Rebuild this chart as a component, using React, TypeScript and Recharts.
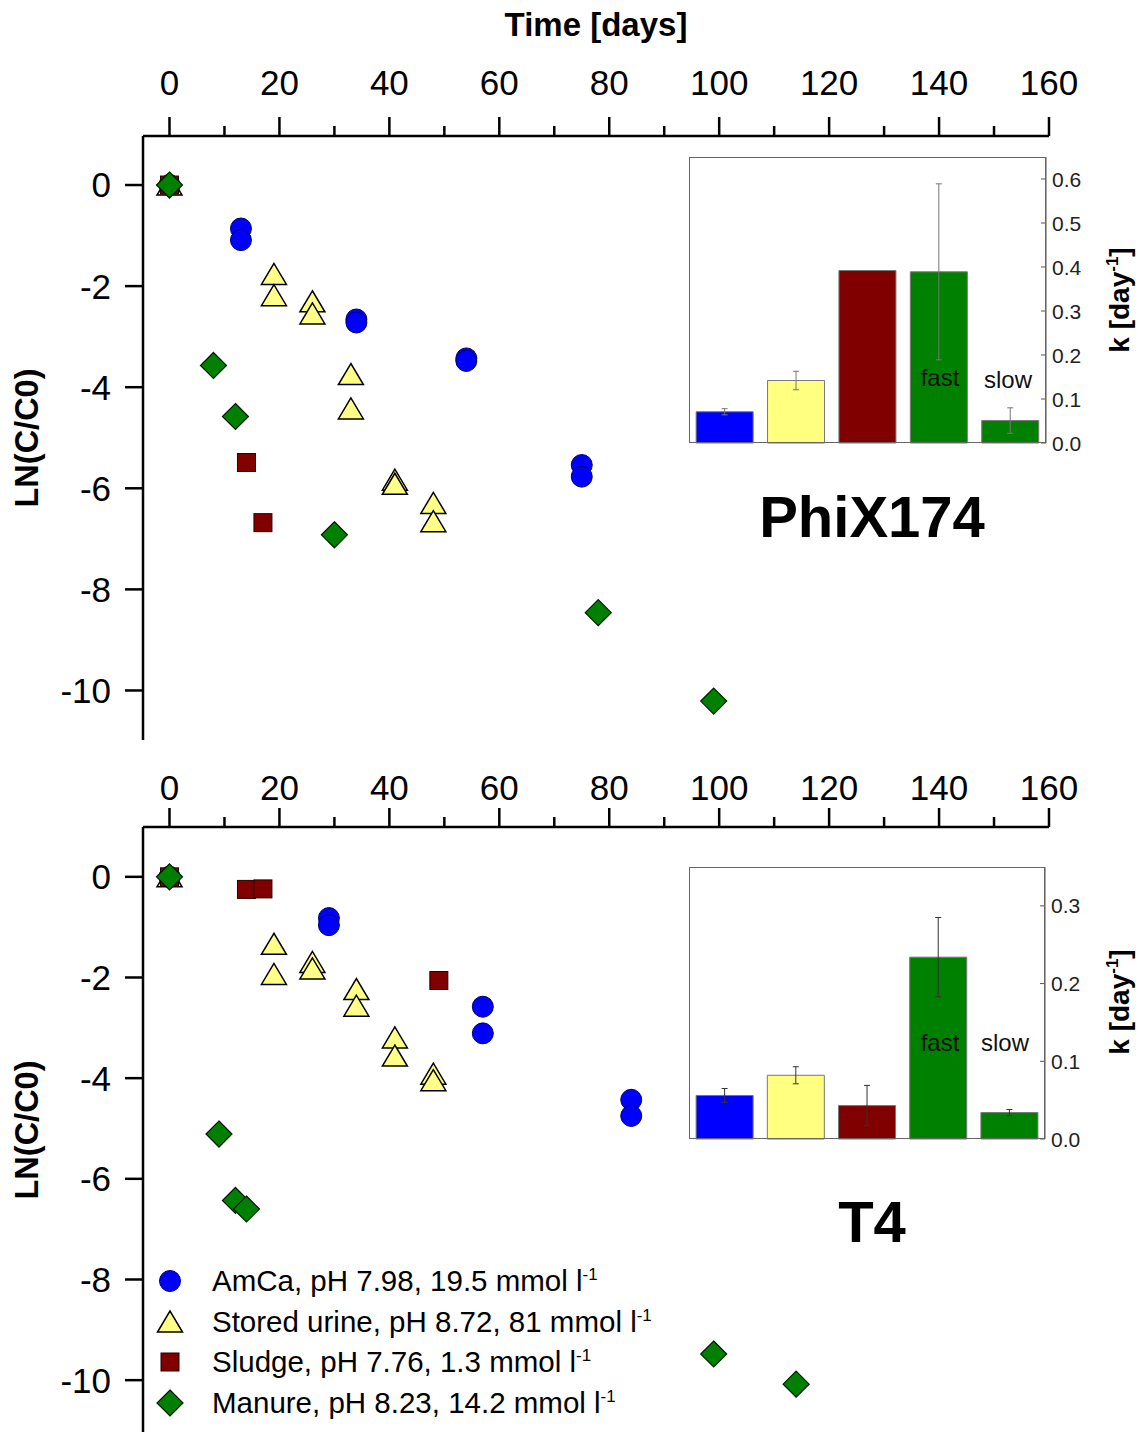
import React from 'react';
import { ScatterChart, Scatter, XAxis, YAxis, BarChart, Bar, Cell, ErrorBar, Legend } from 'recharts';

const FONT = '"Liberation Sans", Arial, Helvetica, sans-serif';

// axis ticks
const dayTicks = [0, 10, 20, 30, 40, 50, 60, 70, 80, 90, 100, 110, 120, 130, 140, 150, 160];
const lnTicks = [-10, -8, -6, -4, -2, 0];

// PhiX174 inactivation, LN(C/C0) vs days
const phiAmCa = [
  { day: 0, ln: 0 }, { day: 13, ln: -0.86 }, { day: 13, ln: -1.09 }, { day: 34, ln: -2.66 },
  { day: 34, ln: -2.72 }, { day: 54, ln: -3.43 }, { day: 54, ln: -3.48 }, { day: 75, ln: -5.54 },
  { day: 75, ln: -5.77 },
];
const phiUrine = [
  { day: 0, ln: 0 }, { day: 19, ln: -1.77 }, { day: 19, ln: -2.19 }, { day: 26, ln: -2.31 },
  { day: 26, ln: -2.55 }, { day: 33, ln: -3.75 }, { day: 33, ln: -4.43 }, { day: 41, ln: -5.84 },
  { day: 41, ln: -5.92 }, { day: 48, ln: -6.3 }, { day: 48, ln: -6.66 },
];
const phiSludge = [{ day: 0, ln: 0 }, { day: 14, ln: -5.49 }, { day: 17, ln: -6.68 }];
const phiManure = [
  { day: 0, ln: 0 }, { day: 8, ln: -3.57 }, { day: 12, ln: -4.58 }, { day: 30, ln: -6.92 },
  { day: 78, ln: -8.46 }, { day: 99, ln: -10.21 },
];

// T4 inactivation
const t4AmCa = [
  { day: 0, ln: 0 }, { day: 29, ln: -0.82 }, { day: 29, ln: -0.96 }, { day: 57, ln: -2.58 },
  { day: 57, ln: -3.11 }, { day: 84, ln: -4.43 }, { day: 84, ln: -4.75 },
];
const t4Urine = [
  { day: 0, ln: 0 }, { day: 19, ln: -1.34 }, { day: 19, ln: -1.94 }, { day: 26, ln: -1.7 },
  { day: 26, ln: -1.83 }, { day: 34, ln: -2.24 }, { day: 34, ln: -2.57 }, { day: 41, ln: -3.2 },
  { day: 41, ln: -3.56 }, { day: 48, ln: -3.92 }, { day: 48, ln: -4.05 },
];
const t4Sludge = [{ day: 0, ln: 0 }, { day: 14, ln: -0.25 }, { day: 17, ln: -0.24 }, { day: 49, ln: -2.06 }];
const t4Manure = [
  { day: 0, ln: 0 }, { day: 9, ln: -5.11 }, { day: 12, ln: -6.43 }, { day: 14, ln: -6.6 },
  { day: 99, ln: -9.48 }, { day: 114, ln: -10.08 },
];

// inset: rate constants k [day-1]
const rateGroups = ['AmCa', 'Stored urine', 'Sludge', 'Manure fast', 'Manure slow'];
const rateColors = ['#0000FF', '#FFFF80', '#800000', '#008000', '#008000'];
const phiK = [0.071, 0.142, 0.392, 0.389, 0.051];
const phiKErr = [0.007, 0.021, 0, 0.2, 0.029];
const t4K = [0.056, 0.082, 0.043, 0.234, 0.034];
const t4KErr = [0.009, 0.011, 0.026, 0.051, 0.004];

const legendItems = [
  { kind: 'circle', text: 'AmCa, pH 7.98, 19.5 mmol l' },
  { kind: 'triangle', text: 'Stored urine, pH 8.72, 81 mmol l' },
  { kind: 'square', text: 'Sludge, pH 7.76, 1.3 mmol l' },
  { kind: 'diamond', text: 'Manure, pH 8.23, 14.2 mmol l' },
];

const Marker = ({ cx, cy, kind }: any) => {
  if (cx == null || cy == null) return null;
  switch (kind) {
    case 'circle':
      return <circle cx={cx} cy={cy} r={10.5} fill="#0000FF" stroke="#00006a" strokeWidth={1} />;
    case 'triangle':
      return (
        <polygon
          points={`${cx},${cy - 11} ${cx - 12.5},${cy + 10} ${cx + 12.5},${cy + 10}`}
          fill="#FFFF88" stroke="#000" strokeWidth={1.5}
        />
      );
    case 'square':
      return <rect x={cx - 9} y={cy - 9} width={18} height={18} fill="#800000" stroke="#2a0000" strokeWidth={1} />;
    default:
      return (
        <polygon
          points={`${cx},${cy - 13} ${cx + 13},${cy} ${cx},${cy + 13} ${cx - 13},${cy}`}
          fill="#008000" stroke="#001a00" strokeWidth={1.2}
        />
      );
  }
};

const shapeOf = (kind: string) => (p: any) => <Marker cx={p.cx} cy={p.cy} kind={kind} />;

// top axis tick: long tick + label every 20 days, short minor tick
const makeDayTick = (labelGap: number) => (props: any) => {
  const { x, y, payload } = props;
  const major = payload.value % 20 === 0;
  return (
    <g>
      <line x1={x} x2={x} y1={y} y2={y - (major ? 19 : 10)} stroke="#000" strokeWidth={2.5} />
      {major && (
        <text x={x} y={y - labelGap + 12.5} textAnchor="middle" fontSize={35} fontFamily={FONT} fill="#000">
          {payload.value}
        </text>
      )}
    </g>
  );
};

// inset right axis: inward tick, label to the right
const RateTick = (props: any) => {
  const { x, y, payload } = props;
  return (
    <g>
      <line x1={x - 5} x2={x} y1={y} y2={y} stroke="#555" strokeWidth={1} />
      <text x={x + 6} y={y + 7.5} textAnchor="start" fontSize={21} fontFamily={FONT} fill="#222">
        {Number(payload.value).toFixed(1)}
      </text>
    </g>
  );
};

const renderLegend = () => (
  <div style={{ fontFamily: FONT, fontSize: 29.5, color: '#000' }}>
    {legendItems.map((it) => (
      <div key={it.kind} style={{ display: 'flex', alignItems: 'center', height: 40.5 }}>
        <svg width={30} height={30} style={{ marginRight: 27 }}>
          <Marker cx={15} cy={15} kind={it.kind} />
        </svg>
        <span style={{ whiteSpace: 'nowrap' }}>
          {it.text}
          <sup style={{ fontSize: 17 }}>-1</sup>
        </span>
      </div>
    ))}
  </div>
);

const axisStroke = { stroke: '#000', strokeWidth: 2.5 };

const Panel = ({ series, top, height, xHeight, yDomain, labelGap, legend }: any) => (
  <div style={{ position: 'absolute', left: 0, top }}>
    <ScatterChart width={1138} height={height} margin={{ top: 0, right: 89, bottom: height === 745 ? 5 : 0, left: 0 }}>
      <XAxis
        type="number" dataKey="day" orientation="top" domain={[-4.82, 160]} ticks={dayTicks}
        height={xHeight} tickSize={0} tickMargin={0} tickLine={false} axisLine={axisStroke}
        tick={makeDayTick(labelGap)} allowDataOverflow interval={0}
      />
      <YAxis
        type="number" dataKey="ln" domain={yDomain} ticks={lnTicks} width={143} tickSize={18} tickMargin={14}
        tickLine={axisStroke} axisLine={axisStroke} allowDataOverflow interval={0}
        tick={{ fontSize: 35, fontFamily: FONT, fill: '#000' }}
      />
      <Scatter data={series[0]} shape={shapeOf('circle')} isAnimationActive={false} />
      <Scatter data={series[1]} shape={shapeOf('triangle')} isAnimationActive={false} />
      <Scatter data={series[2]} shape={shapeOf('square')} isAnimationActive={false} />
      <Scatter data={series[3]} shape={shapeOf('diamond')} isAnimationActive={false} />
      {legend && (
        <Legend
          layout="horizontal" verticalAlign="middle" align="center"
          wrapperStyle={{ left: 155, top: 516, width: 'auto', height: 'auto' }}
          content={renderLegend}
        />
      )}
    </ScatterChart>
  </div>
);

const Inset = ({ left, top, width, height, values, errors, domain, ticks, errColor }: any) => {
  const data = rateGroups.map((g, i) => ({ group: g, k: values[i], err: errors[i] }));
  return (
    <>
      <div style={{ position: 'absolute', left, top: top - 5, background: '#fff' }}>
        <BarChart width={width + 60} height={height + 20} data={data} margin={{ top: 5, right: 0, bottom: 15, left: 0 }} barCategoryGap="10%">
          <XAxis dataKey="group" hide />
          <YAxis
            orientation="right" domain={domain} ticks={ticks} width={60} tickSize={0} tickMargin={0}
            tickLine={false} axisLine={{ stroke: '#555', strokeWidth: 1 }} tick={RateTick} interval={0}
          />
          <Bar dataKey="k" stroke="#777" strokeWidth={1} isAnimationActive={false}>
            {data.map((d, i) => (
              <Cell key={d.group} fill={rateColors[i]} />
            ))}
            <ErrorBar dataKey="err" width={3} stroke={errColor} strokeWidth={1} />
          </Bar>
        </BarChart>
      </div>
      <div
        style={{
          position: 'absolute', left, top, width, height, border: '1px solid #666',
          boxSizing: 'border-box', pointerEvents: 'none',
        }}
      />
    </>
  );
};

const Txt = ({ x, y, size, bold, rotate, children, color }: any) => (
  <div
    style={{
      position: 'absolute', left: x, top: y, fontFamily: FONT, fontSize: size,
      fontWeight: bold ? 'bold' : 'normal', color: color || '#000', whiteSpace: 'nowrap', lineHeight: 1,
      transform: `translate(-50%, -50%)${rotate ? ' rotate(-90deg)' : ''}`,
    }}
  >
    {children}
  </div>
);

export default function App() {
  return (
    <div style={{ position: 'absolute', left: 0, top: 0, width: 1138, height: 1432, background: '#fff', overflow: 'hidden' }}>
      <Panel
        series={[phiAmCa, phiUrine, phiSludge, phiManure]} top={0} height={745} xHeight={136}
        yDomain={[-10.98, 0.97]} labelGap={53.5}
      />
      <Panel
        series={[t4AmCa, t4Urine, t4Sludge, t4Manure]} top={745} height={687} xHeight={82}
        yDomain={[-11.03, 0.99]} labelGap={39.5} legend
      />
      <Inset left={689} top={157} width={357} height={286} values={phiK} errors={phiKErr}
        domain={[0, 0.65]} ticks={[0, 0.1, 0.2, 0.3, 0.4, 0.5, 0.6]} errColor="#777" />
      <Inset left={689} top={867} width={356} height={272} values={t4K} errors={t4KErr}
        domain={[0, 0.35]} ticks={[0, 0.1, 0.2, 0.3]} errColor="#333" />

      <Txt x={596} y={24} size={33} bold>Time [days]</Txt>
      <Txt x={27} y={438} size={32.5} bold rotate>LN(C/C0)</Txt>
      <Txt x={27} y={1130} size={32.5} bold rotate>LN(C/C0)</Txt>
      <Txt x={1119} y={300} size={28} bold rotate>k [day<sup style={{ fontSize: 17 }}>-1</sup>]</Txt>
      <Txt x={1119} y={1002} size={28} bold rotate>k [day<sup style={{ fontSize: 17 }}>-1</sup>]</Txt>
      <Txt x={872} y={517} size={58} bold>PhiX174</Txt>
      <Txt x={872} y={1222} size={58} bold>T4</Txt>
      <Txt x={940} y={378} size={24} color="#111">fast</Txt>
      <Txt x={1008} y={380} size={24} color="#111">slow</Txt>
      <Txt x={940} y={1043} size={24} color="#111">fast</Txt>
      <Txt x={1005} y={1043} size={24} color="#111">slow</Txt>
    </div>
  );
}
